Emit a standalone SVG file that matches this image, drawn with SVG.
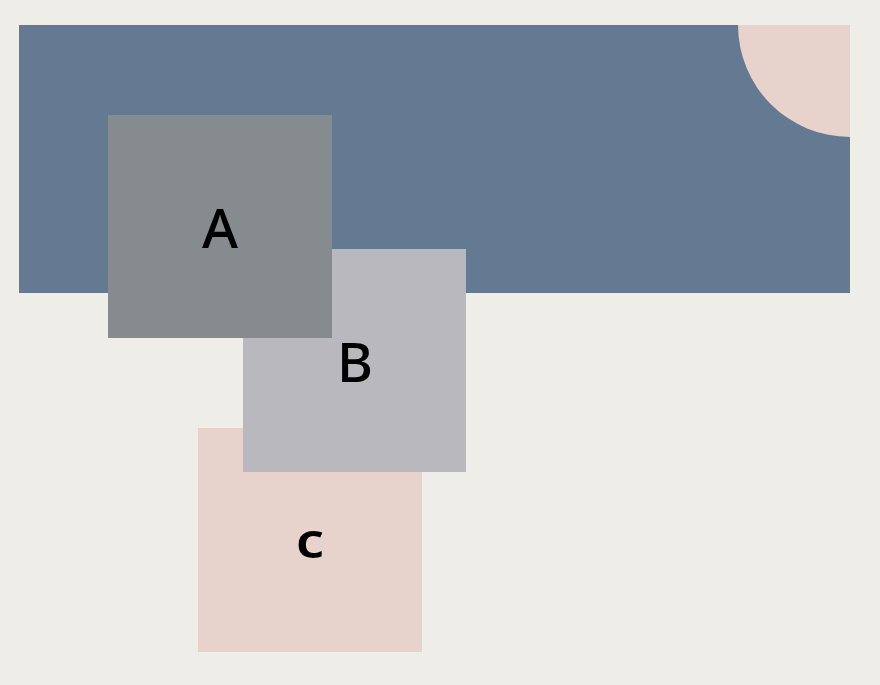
<svg xmlns="http://www.w3.org/2000/svg" width="880" height="685" viewBox="0 0 880 685">
<style>
.lbl{font-family:"Noto Sans","Open Sans",sans-serif;font-size:55px;font-weight:500;fill:#000;text-anchor:middle}
</style>
<rect width="880" height="685" fill="#EEEDE7"/>
<g id="banner">
<rect x="19" y="25" width="831" height="268" fill="#647A93"/>
<path d="M738,25 A112,112 0 0 0 850,137 L850,25 Z" fill="#E8D2CC"/>
</g>
<g id="connectors"></g>
<g id="node-c">
<rect x="198" y="428" width="224" height="224" fill="#E8D2CC"/>
<text class="lbl" x="0" y="0" transform="translate(310,558) scale(1.15,1)" style="font-weight:600;font-size:49px">c</text>
</g>
<g id="node-b">
<rect x="243" y="249" width="223" height="223" fill="#BAB8BF"/>
<text class="lbl" x="355" y="382">B</text>
</g>
<g id="node-a">
<rect x="108" y="115" width="224" height="223" fill="#868B8F"/>
<text class="lbl" x="220" y="248">A</text>
</g>
</svg>
